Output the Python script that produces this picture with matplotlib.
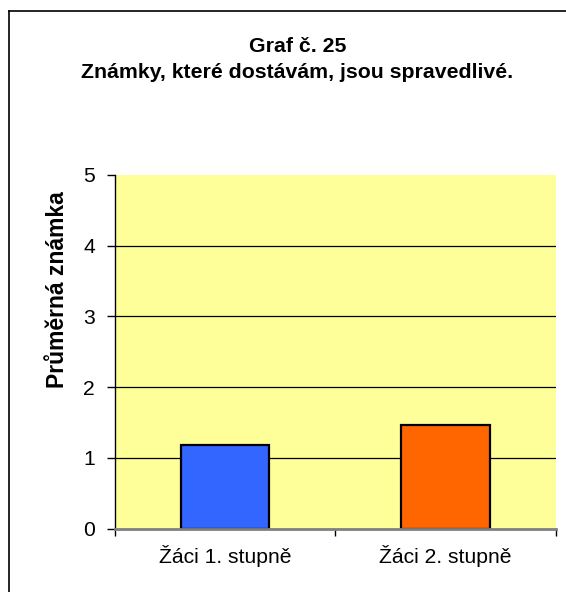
import matplotlib
matplotlib.use("Agg")
import matplotlib.pyplot as plt
from matplotlib.lines import Line2D

categories = ["Žáci 1. stupně", "Žáci 2. stupně"]
values = [1.18, 1.47]
bar_colors = ["#3366FF", "#FF6600"]
yticks = [0, 1, 2, 3, 4, 5]
title1 = "Graf č. 25"
title2 = "Známky, které dostávám, jsou spravedlivé."
ylabel = "Průměrná známka"

plt.rcParams['font.family'] = ['Liberation Sans', 'DejaVu Sans']

W, H = 566, 592
fig = plt.figure(figsize=(W / 100, H / 100), dpi=100)
fig.patch.set_facecolor("white")

ax = fig.add_axes([114.5 / W, 1 - 528.7 / H, (556 - 114.5) / W, (528.7 - 175) / H])
ax.set_facecolor("#FFFF99")
x = list(range(len(categories)))
ax.bar(x, values, width=0.4, color=bar_colors, edgecolor="black", linewidth=1.6, zorder=3)
ax.set_xlim(-0.5, len(categories) - 0.5)
ax.set_ylim(0, 5)
ax.set_yticks(yticks)
ax.set_yticklabels([str(t) for t in yticks], fontsize=15.2)
for t in yticks[1:-1]:
    ax.axhline(t, color="black", linewidth=0.9, zorder=1)
ax.set_xticks(x)
ax.set_xticklabels(categories, fontsize=15.2)
ax.set_xticks([i - 0.5 for i in range(len(categories) + 1)], minor=True)
ax.tick_params(axis="x", which="major", length=0, pad=12)
ax.tick_params(axis="x", which="minor", length=5, width=1, color="black", direction="out")
ax.tick_params(axis="y", length=6, width=1, color="black", direction="out", pad=8)
for s in ["top", "right"]:
    ax.spines[s].set_visible(False)
ax.spines["left"].set_color("black")
ax.spines["left"].set_linewidth(1.0)
ax.spines["bottom"].set_color("#808080")
ax.spines["bottom"].set_linewidth(2.0)
ax.spines["bottom"].set_zorder(4)

fig.text(297.5 / W, 1 - 46 / H, title1, ha="center", va="center", fontsize=15.3, fontweight="bold")
fig.text(297.5 / W, 1 - 73 / H, title2, ha="center", va="center", fontsize=15.3, fontweight="bold")
fig.text(58 / W, 1 - 290 / H, ylabel, ha="center", va="center", rotation=90, fontsize=16.5, fontweight="bold")

# border lines (top and left visible in the crop)
fig.add_artist(Line2D([8.5 / W, 1.0], [1 - 11 / H, 1 - 11 / H], transform=fig.transFigure, color="black", linewidth=1.2))
fig.add_artist(Line2D([8.5 / W, 8.5 / W], [0.0, 1 - 11 / H], transform=fig.transFigure, color="black", linewidth=1.2))

fig.savefig("out.png", dpi=100, facecolor="white")
